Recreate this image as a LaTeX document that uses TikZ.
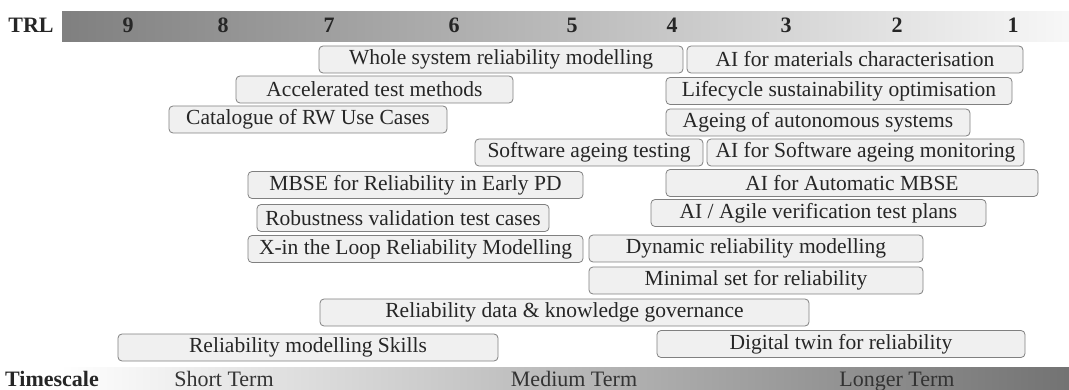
\documentclass[tikz,border=0pt]{standalone}
\usepackage{fontspec}
\setmainfont{Liberation Serif}
\usepackage{tikz}

\begin{document}
\begin{tikzpicture}[x=1pt,y=-1pt,
                item/.style={draw=black!50,fill=black!6,rounded corners=4pt,line width=0.8pt,
                             minimum height=27pt,inner sep=0pt,text=black!85,
                             font=\fontsize{21.5}{24}\selectfont},
                scalelabel/.style={anchor=base,font=\fontsize{22}{24}\selectfont\bfseries,text=black!85},
                termlabel/.style={anchor=base,font=\fontsize{22}{24}\selectfont,text=black!80}
            ]
                \useasboundingbox (0,0) rectangle (1069,390);
                % TRL bar
                \shade[left color=black!50,right color=black!3] (62,12) rectangle (1069,42);
                \node[scalelabel] (trl) at (31,33) {TRL};
                \foreach \n/\x in {9/128,8/223,7/329,6/454,5/572,4/672,3/786,2/897,1/1013}
                    {
                    \node[scalelabel] (trl\n) at (\x,33) {\n};
                }
                % research topics
                \node[item,minimum width=364pt] (wsrm) at (501,59.5) {Whole system reliability modelling};
                \node[item,minimum width=336pt] (aimc) at (855,59.5) {AI for materials characterisation};
                \node[item,minimum width=277pt] (atm) at (374.5,89.5) {Accelerated test methods};
                \node[item,minimum width=346pt] (lso) at (839,91) {Lifecycle sustainability optimisation};
                \node[item,minimum width=278pt] (crw) at (308,119.5) {Catalogue of RW Use Cases};
                \node[item,minimum width=304pt] (aas) at (818,122.5) {Ageing of autonomous systems};
                \node[item,minimum width=228pt] (sat) at (589,152.5) {Software ageing testing};
                \node[item,minimum width=317pt] (aisam) at (865.5,152.5) {AI for Software ageing monitoring};
                \node[item,minimum width=335pt] (mbse) at (415.5,185) {MBSE for Reliability in Early PD};
                \node[item,minimum width=372pt] (aimbse) at (852,183) {AI for Automatic MBSE};
                \node[item,minimum width=292pt] (rvtc) at (403,218) {Robustness validation test cases};
                \node[item,minimum width=335pt] (aavtp) at (818.5,213) {AI / Agile verification test plans};
                \node[item,minimum width=335pt] (xil) at (415.5,249) {X-in the Loop Reliability Modelling};
                \node[item,minimum width=334pt] (drm) at (756,248.5) {Dynamic reliability modelling};
                \node[item,minimum width=334pt] (msr) at (756,280.5) {Minimal set for reliability};
                \node[item,minimum width=489pt] (rdkg) at (564.5,312.5) {Reliability data \& knowledge governance};
                \node[item,minimum width=380pt] (rms) at (308,347.5) {Reliability modelling Skills};
                \node[item,minimum width=368pt] (dtr) at (841,344) {Digital twin for reliability};
                % timescale bar
                \shade[left color=white,right color=black!55] (60,367) rectangle (1069,390);
                \node[scalelabel] (ts) at (52,386) {Timescale};
                \node[termlabel] (short) at (224,386) {Short Term};
                \node[termlabel] (medium) at (574,386) {Medium Term};
                \node[termlabel] (longer) at (897,386) {Longer Term};

            \end{tikzpicture}
\end{document}
